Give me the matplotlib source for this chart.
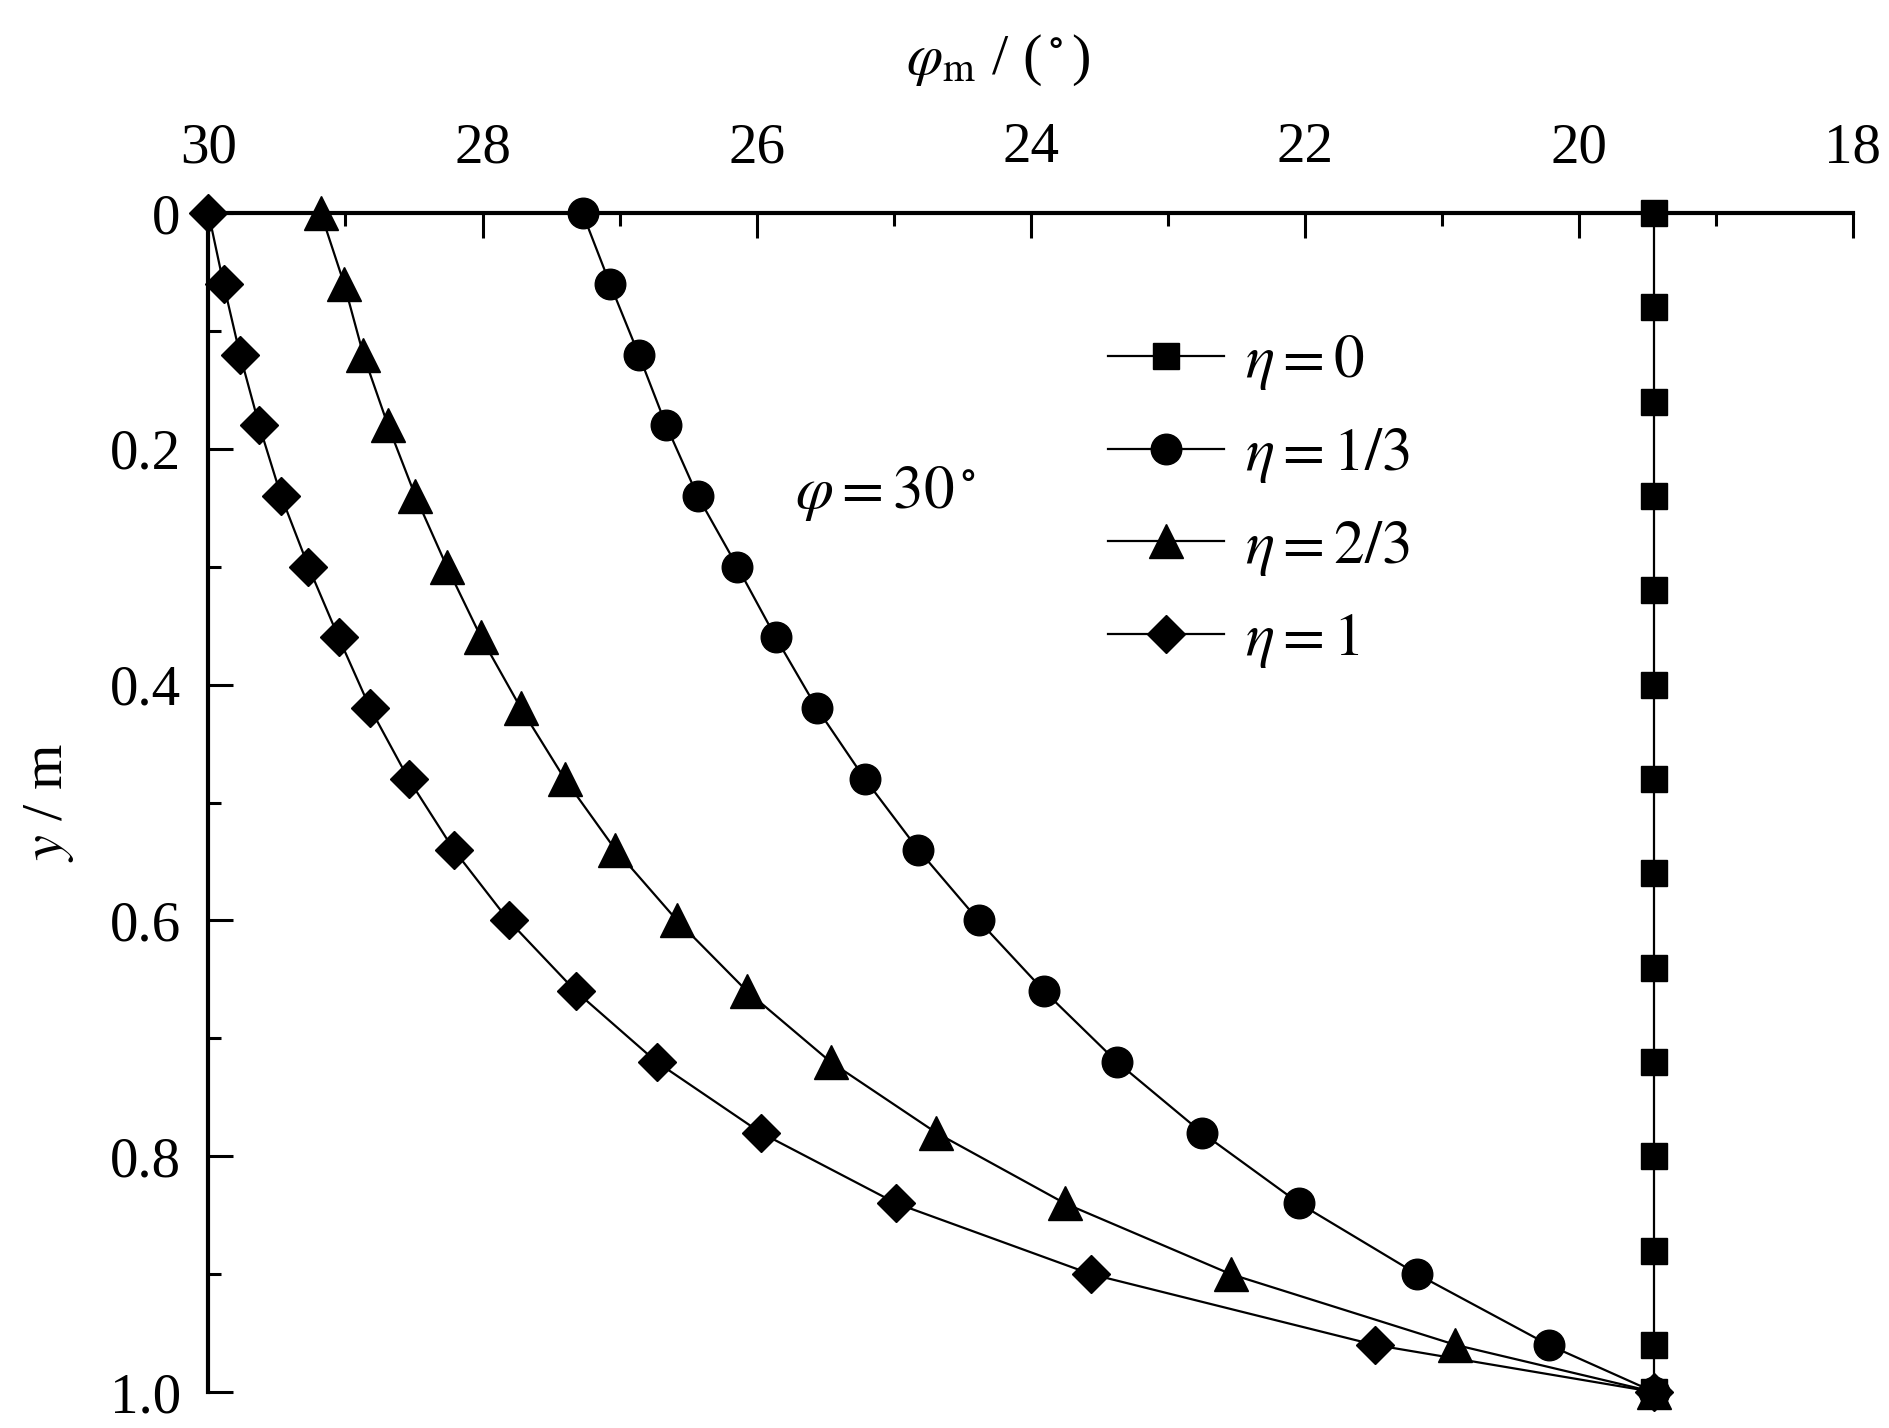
import matplotlib
matplotlib.use('Agg')
import matplotlib.pyplot as plt
from matplotlib.ticker import MultipleLocator, FixedLocator

plt.rcParams['font.family'] = ['Liberation Serif', 'DejaVu Serif']
plt.rcParams['mathtext.fontset'] = 'stix'

# depth points (m)
y_sq = [0, 0.08, 0.16, 0.24, 0.32, 0.40, 0.48, 0.56, 0.64, 0.72, 0.80, 0.88, 0.96, 1.0]
y_pts = [0, 0.06, 0.12, 0.18, 0.24, 0.30, 0.36, 0.42, 0.48, 0.54,
         0.60, 0.66, 0.72, 0.78, 0.84, 0.90, 0.96, 1.0]

# mobilised friction angle (deg)
phi_eta0 = [19.45] * len(y_sq)
phi_eta13 = [27.27, 27.07, 26.86, 26.66, 26.43, 26.14, 25.86, 25.56, 25.21, 24.82,
             24.38, 23.90, 23.37, 22.75, 22.04, 21.18, 20.22, 19.45]
phi_eta23 = [29.18, 29.01, 28.87, 28.69, 28.49, 28.26, 28.01, 27.72, 27.40, 27.03,
             26.58, 26.07, 25.46, 24.69, 23.75, 22.54, 20.90, 19.45]
phi_eta1 = [30.0, 29.89, 29.77, 29.63, 29.47, 29.27, 29.05, 28.82, 28.54, 28.21,
            27.81, 27.32, 26.73, 25.97, 24.98, 23.56, 21.49, 19.45]

labels = [r'$\eta=0$', r'$\eta=1/3$', r'$\eta=2/3$', r'$\eta=1$']

fig = plt.figure(figsize=(18.9, 14.28), dpi=100)
ax = fig.add_axes([0.1103, 0.0252, 0.870, 0.8256])

kw = dict(color='black', lw=1.6, clip_on=False)
ax.plot(phi_eta0, y_sq, marker='s', ms=19, label=labels[0], **kw)
ax.plot(phi_eta13, y_pts, marker='o', ms=22, label=labels[1], **kw)
ax.plot(phi_eta23, y_pts, marker='^', ms=24, label=labels[2], **kw)
ax.plot(phi_eta1, y_pts, marker='D', ms=19, label=labels[3], **kw)

ax.set_xlim(30, 18)
ax.set_ylim(1.0, 0)

ax.xaxis.tick_top()
ax.xaxis.set_major_locator(MultipleLocator(2))
ax.xaxis.set_minor_locator(MultipleLocator(1))
ax.yaxis.set_major_locator(FixedLocator([0, 0.2, 0.4, 0.6, 0.8, 1.0]))
ax.yaxis.set_minor_locator(MultipleLocator(0.1))
ax.set_yticklabels(['0', '0.2', '0.4', '0.6', '0.8', '1.0'])

ax.spines['right'].set_visible(False)
ax.spines['bottom'].set_visible(False)
for s in ['top', 'left']:
    ax.spines[s].set_linewidth(3)

ax.tick_params(which='both', direction='in', width=2.2, labelsize=41)
ax.tick_params(which='major', length=18)
ax.tick_params(which='minor', length=9)
ax.tick_params(axis='x', pad=28)
ax.tick_params(axis='y', pad=20)

fig.text(0.528, 0.958, r'$\varphi_{\rm m}$ / ($^\circ$)', fontsize=42,
         ha='center', va='center')
fig.text(0.026, 0.438, r'$y$ / m', fontsize=42,
         rotation=90, ha='center', va='center')

ax.text(25.72, 0.238, r'$\varphi=30^\circ$', fontsize=44, ha='left', va='center')

ax.legend(loc='upper left', bbox_to_anchor=(0.547, 0.898), frameon=False,
          fontsize=44, handlelength=1.9, handletextpad=0.35, labelspacing=0.55,
          borderpad=0, borderaxespad=0)

fig.savefig('out.png', dpi=100)
